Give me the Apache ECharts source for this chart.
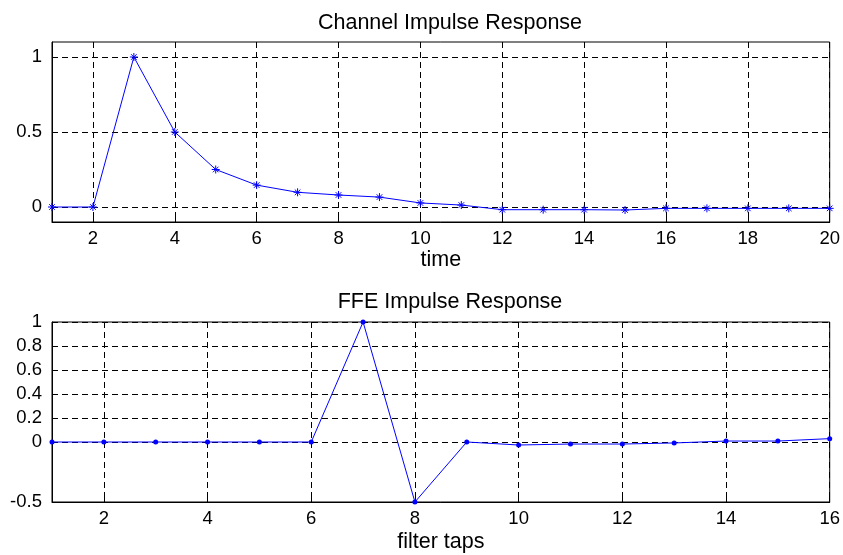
<!DOCTYPE html>
<html><head><meta charset="utf-8">
<script src="https://cdn.jsdelivr.net/npm/echarts@6/dist/echarts.min.js"></script>
<style>html,body{margin:0;padding:0;background:#fff}#c{width:843px;height:555px}</style>
</head><body><div id="c"></div>
<script>
const chanTime = [1,2,3,4,5,6,7,8,9,10,11,12,13,14,15,16,17,18,19,20];
const chanValues = [0,0,1,0.5,0.25,0.146,0.098,0.08,0.066,0.027,0.013,-0.018,-0.018,-0.018,-0.02,-0.009,-0.009,-0.009,-0.009,-0.009];
const ffeTaps = [1,2,3,4,5,6,7,8,9,10,11,12,13,14,15,16];
const ffeValues = [0,0,0,0,0,0,1,-0.5,0,-0.025,-0.017,-0.017,-0.008,0.008,0.008,0.028];
const topXTicks = [2,4,6,8,10,12,14,16,18,20];
const topYTicks = [0,0.5,1];
const botXTicks = [2,4,6,8,10,12,14,16];
const botYTicks = [-0.5,0,0.2,0.4,0.6,0.8,1];

const font = 'Liberation Sans, Arial, sans-serif';
const chart = echarts.init(document.getElementById('c'));
const grid = {show:true, borderColor:'#000', borderWidth:1, backgroundColor:'transparent'};
const dashed = {show:true, lineStyle:{color:'#000', type:[6,4], width:1}};
const lbl = {color:'#000', fontSize:18.5, fontFamily:font};
const nameStyle = {color:'#000', fontSize:21.5, fontFamily:font};
const asterisk = 'path://M0,-1L0,1M-1,0L1,0M-0.7,-0.7L0.7,0.7M-0.7,0.7L0.7,-0.7';

chart.setOption({
  animation:false,
  title:[
    {text:'Channel Impulse Response', top:7, left:445, textAlign:'center', textStyle:Object.assign({fontWeight:'normal'}, nameStyle)},
    {text:'FFE Impulse Response', top:286, left:445, textAlign:'center', textStyle:Object.assign({fontWeight:'normal'}, nameStyle)}
  ],
  grid:[
    Object.assign({left:52, right:10, top:42, bottom:333}, grid),
    Object.assign({left:52, right:10, top:322, bottom:53}, grid)
  ],
  xAxis:[
    {type:'value', gridIndex:0, min:1, max:20, name:'time', nameLocation:'middle', nameGap:27,
     nameTextStyle:nameStyle,
     axisLine:{show:true, onZero:false, lineStyle:{color:'#000'}},
     axisTick:{show:true, inside:true, length:4, customValues:topXTicks, lineStyle:{color:'#000'}},
     axisLabel:Object.assign({customValues:topXTicks, margin:7}, lbl),
     splitLine:dashed},
    {type:'value', gridIndex:1, min:1, max:16, name:'filter taps', nameLocation:'middle', nameGap:29,
     nameTextStyle:nameStyle,
     axisLine:{show:true, onZero:false, lineStyle:{color:'#000'}},
     axisTick:{show:true, inside:true, length:4, customValues:botXTicks, lineStyle:{color:'#000'}},
     axisLabel:Object.assign({customValues:botXTicks, margin:7}, lbl),
     splitLine:dashed}
  ],
  yAxis:[
    {type:'value', gridIndex:0, min:-0.1, max:1.1,
     axisLine:{show:true, onZero:false, lineStyle:{color:'#000'}},
     axisTick:{show:true, inside:true, length:4, customValues:topYTicks, lineStyle:{color:'#000'}},
     axisLabel:Object.assign({customValues:topYTicks, margin:10}, lbl),
     splitLine:dashed},
    {type:'value', gridIndex:1, min:-0.5, max:1,
     axisLine:{show:true, onZero:false, lineStyle:{color:'#000'}},
     axisTick:{show:true, inside:true, length:4, customValues:botYTicks, lineStyle:{color:'#000'}},
     axisLabel:Object.assign({customValues:botYTicks, margin:10}, lbl),
     splitLine:dashed}
  ],
  series:[
    {type:'line', xAxisIndex:0, yAxisIndex:0, data:chanTime.map((t,i)=>[t,chanValues[i]]),
     symbol:asterisk, symbolSize:8, showAllSymbol:true,
     lineStyle:{color:'#0000ff', width:1},
     itemStyle:{color:'#0000ff', borderColor:'#0000ff', borderWidth:1}},
    {type:'line', xAxisIndex:1, yAxisIndex:1, data:ffeTaps.map((t,i)=>[t,ffeValues[i]]),
     symbol:'circle', symbolSize:5, showAllSymbol:true,
     lineStyle:{color:'#0000ff', width:1},
     itemStyle:{color:'#0000ff'}}
  ]
});
</script>
</body></html>
